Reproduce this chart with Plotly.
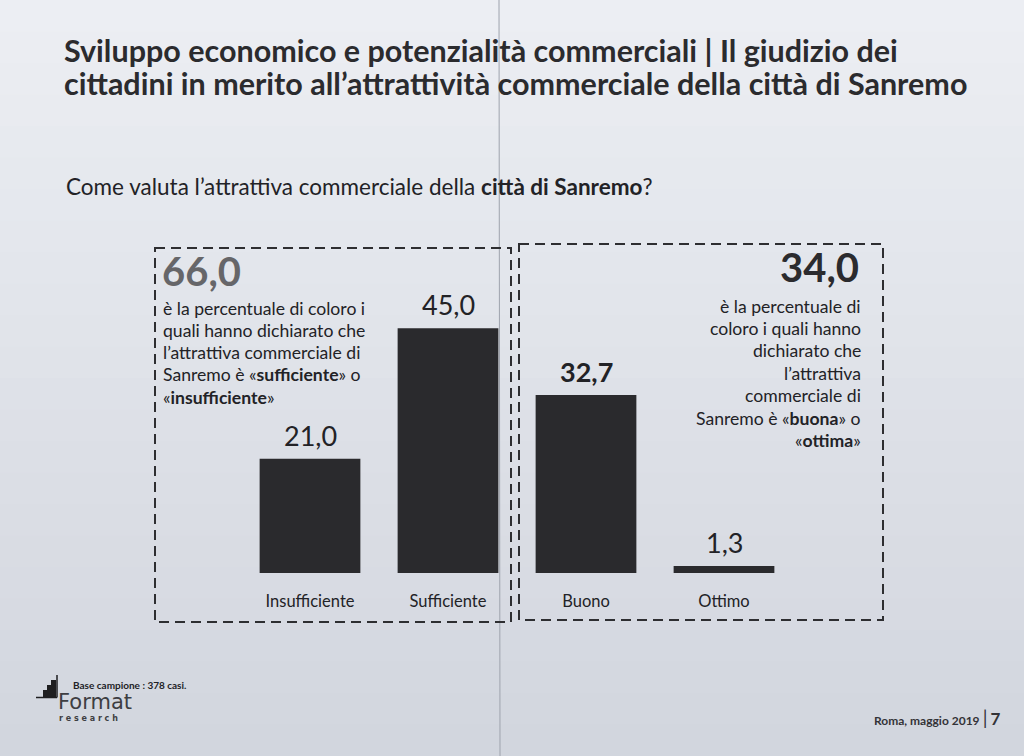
import plotly.graph_objects as go

W, H = 1024, 756

# dati del grafico
categorie = ["Insufficiente", "Sufficiente", "Buono", "Ottimo"]
valori = [21.0, 45.0, 32.7, 1.3]
grassetto = [False, False, True, False]
quota_negativa = 66.0   # insufficiente + sufficiente
quota_positiva = 34.0   # buono + ottimo

FONT = "Lato"
INK = "#222226"


def fx(x):
    return x / W


def fy(y):
    return 1 - y / H


def virgola(v):
    return f"{v:.1f}".replace(".", ",")


def testo(x, y, t, size, xanchor="left", color=INK, family=FONT):
    return dict(x=fx(x), y=fy(y), xref="paper", yref="paper", xanchor=xanchor,
                yanchor="middle", text=t, showarrow=False,
                font=dict(family=family, size=size, color=color))


fig = go.Figure(go.Bar(
    x=categorie, y=valori, width=0.73,
    marker=dict(color="#2a2a2d", line=dict(width=0)),
    hoverinfo="skip",
))

annotations = []

# etichette dei valori sopra le barre
for c, v, b in zip(categorie, valori, grassetto):
    t = virgola(v)
    annotations.append(dict(
        x=c, y=v, xref="x", yref="y", yanchor="bottom", yshift=5,
        text=f"<b>{t}</b>" if b else t, showarrow=False,
        font=dict(family=FONT, size=27, color=INK),
    ))

# titolo e domanda
annotations.append(testo(62, 50, "<b>Sviluppo economico e potenzialità commerciali | Il giudizio dei</b>",
                         30.5, color="#2b2b2e"))
annotations.append(testo(62, 83, "<b>cittadini in merito all’attrattività commerciale della città di Sanremo</b>",
                         30.5, color="#2b2b2e"))
annotations.append(testo(64, 186, "Come valuta l’attrattiva commerciale della <b>città di Sanremo</b>?", 22.5))

# riquadro sinistro
annotations.append(testo(160, 271, f"<b>{virgola(quota_negativa)}</b>", 40, color="#666669"))
righe_sx = [
    "è la percentuale di coloro i",
    "quali hanno dichiarato che",
    "l’attrattiva commerciale di",
    "Sanremo è «<b>sufficiente</b>» o",
    "«<b>insufficiente</b>»",
]
for i, r in enumerate(righe_sx):
    annotations.append(testo(161, 308 + 22.3 * i, r, 17.6))

# riquadro destro
annotations.append(testo(861, 267, f"<b>{virgola(quota_positiva)}</b>", 40, xanchor="right",
                         color="#2b2b2e"))
righe_dx = [
    "è la percentuale di",
    "coloro i quali hanno",
    "dichiarato che",
    "l’attrattiva",
    "commerciale di",
    "Sanremo è «<b>buona</b>» o",
    "«<b>ottima</b>»",
]
for i, r in enumerate(righe_dx):
    annotations.append(testo(863, 306 + 22.4 * i, r, 17.6, xanchor="right"))

# piè di pagina
annotations.append(testo(71, 685, "<b>Base campione : 378 casi.</b>", 10))
annotations.append(testo(56, 702, "Format", 21, color="#3e3e42", family="DejaVu Sans"))
annotations.append(testo(57, 718, "<b>" + "&nbsp;".join("research") + "</b>", 8,
                         color="#3e3e42", family="DejaVu Sans"))
annotations.append(testo(1003, 717, "<b>Roma, maggio 2019</b> <span style='font-size:19px'>|</span> "
                         "<b><span style='font-size:17px'>7</span></b>", 12,
                         xanchor="right", color="#333337"))

# sfondo del foglio: leggera sfumatura verticale
shapes = []
bande = 24
top_c, bot_c = (236, 238, 243), (210, 214, 222)
for i in range(bande):
    f = i / (bande - 1)
    c = tuple(round(a + (b - a) * f) for a, b in zip(top_c, bot_c))
    shapes.append(dict(type="rect", xref="paper", yref="paper", x0=0, x1=1,
                       y0=1 - (i + 1) / bande - 0.002, y1=1 - i / bande,
                       fillcolor=f"rgb{c}", line=dict(width=0), layer="below"))

DASH = "10px,6px"
shapes += [
    # piega del foglio
    dict(type="line", xref="paper", yref="paper", x0=fx(499), x1=fx(500), y0=1, y1=0,
         line=dict(color="#9ea3ad", width=1), layer="below"),
    # riquadri tratteggiati
    dict(type="rect", xref="paper", yref="paper", x0=fx(155), x1=fx(511), y0=fy(248), y1=fy(622),
         line=dict(color="#2e2e31", width=2, dash=DASH)),
    dict(type="rect", xref="paper", yref="paper", x0=fx(519), x1=fx(883), y0=fy(244), y1=fy(620),
         line=dict(color="#2e2e31", width=2, dash=DASH)),
    # logo a gradini
    dict(type="path", xref="paper", yref="paper",
         path=(f"M{fx(43)},{fy(697)} L{fx(43)},{fy(690)} L{fx(47)},{fy(690)} L{fx(47)},{fy(685)} "
               f"L{fx(51)},{fy(685)} L{fx(51)},{fy(680)} L{fx(56)},{fy(680)} L{fx(56)},{fy(697)} Z"),
         fillcolor="#1e1e20", line=dict(width=0)),
    dict(type="line", xref="paper", yref="paper", x0=fx(36), x1=fx(57), y0=fy(697.5), y1=fy(697.5),
         line=dict(color="#1e1e20", width=1.5)),
    dict(type="line", xref="paper", yref="paper", x0=fx(57), x1=fx(57), y0=fy(675), y1=fy(697.5),
         line=dict(color="#1e1e20", width=1.5)),
]

fig.update_layout(
    width=W, height=H,
    margin=dict(l=0, r=0, t=0, b=0),
    paper_bgcolor="#e1e4eb", plot_bgcolor="rgba(0,0,0,0)",
    showlegend=False,
    xaxis=dict(domain=[fx(241), fx(793)], range=[-0.5, 3.5], showgrid=False, zeroline=False,
               showline=False, ticks="", ticklabelstandoff=16,
               tickfont=dict(family=FONT, size=16.5, color=INK)),
    yaxis=dict(domain=[fy(573), fy(301)], range=[0, 50], visible=False),
    annotations=annotations,
    shapes=shapes,
)

fig.write_html("out.html", config={"displayModeBar": False},
               post_script="document.body.style.margin='0';")
